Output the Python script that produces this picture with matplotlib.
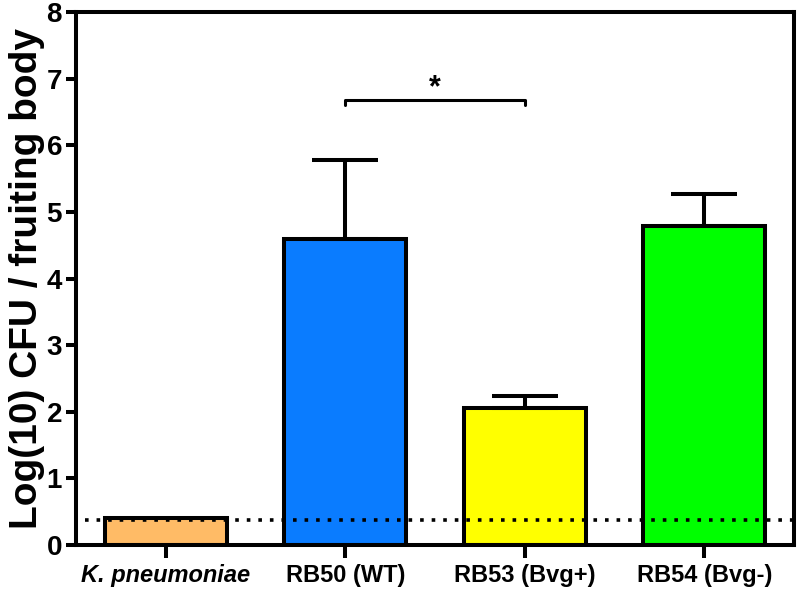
import matplotlib
matplotlib.use("Agg")
import matplotlib.pyplot as plt
import numpy as np

plt.rcParams['font.family'] = ['Liberation Sans', 'DejaVu Sans']
plt.rcParams['font.weight'] = 'bold'

# values
strains = ['K. pneumoniae', 'RB50 (WT)', 'RB53 (Bvg+)', 'RB54 (Bvg-)']
log_cfu = [0.41, 4.59, 2.05, 4.79]
sem = [0.0, 1.19, 0.19, 0.48]
colors = ['#FFBB66', '#0A7CFF', '#FFFF00', '#00FF00']
detection_limit = 0.38
sig_pair = (1, 2)
sig_y = 6.68

fig = plt.figure(figsize=(8, 5.92), dpi=100)
ax = fig.add_axes([0.095, 0.0794, 0.8975, 0.9003])

x = np.arange(len(strains))
lw = 2.9
ax.bar(x, log_cfu, width=0.68, color=colors, edgecolor='black', linewidth=lw, zorder=2)
for i in range(len(x)):
    if sem[i] > 0:
        ax.errorbar(x[i], log_cfu[i], yerr=[[0], [sem[i]]], fmt='none', ecolor='black',
                    elinewidth=lw, capsize=24, capthick=lw, zorder=3)

ax.axhline(detection_limit, xmin=0.012, color='black', linestyle=(0, (1, 2.2)),
           linewidth=2.6, zorder=4)

# significance bracket
a, b = sig_pair
ax.plot([a, a, b, b], [sig_y - 0.07, sig_y, sig_y, sig_y - 0.07], color='black', linewidth=2.2,
        solid_capstyle='round', clip_on=False)
ax.text((a + b) / 2, sig_y - 0.05, '*', ha='center', va='bottom', fontsize=22)

ax.set_xlim(-0.5, 3.5)
ax.set_ylim(0, 8)
ax.set_yticks(range(0, 9))
ax.set_xticks(x)
ax.set_xticklabels(strains, fontsize=17)
ax.get_xticklabels()[0].set_style('italic')
ax.tick_params(axis='y', labelsize=20, width=lw, length=7, direction='out', pad=3)
ax.tick_params(axis='x', width=lw, length=9, direction='out', pad=5)
for s in ax.spines.values():
    s.set_linewidth(lw)
ax.set_ylabel('Log(10) CFU / fruiting body', fontsize=28, fontweight='bold', labelpad=1)

fig.savefig('out.png', dpi=100)
